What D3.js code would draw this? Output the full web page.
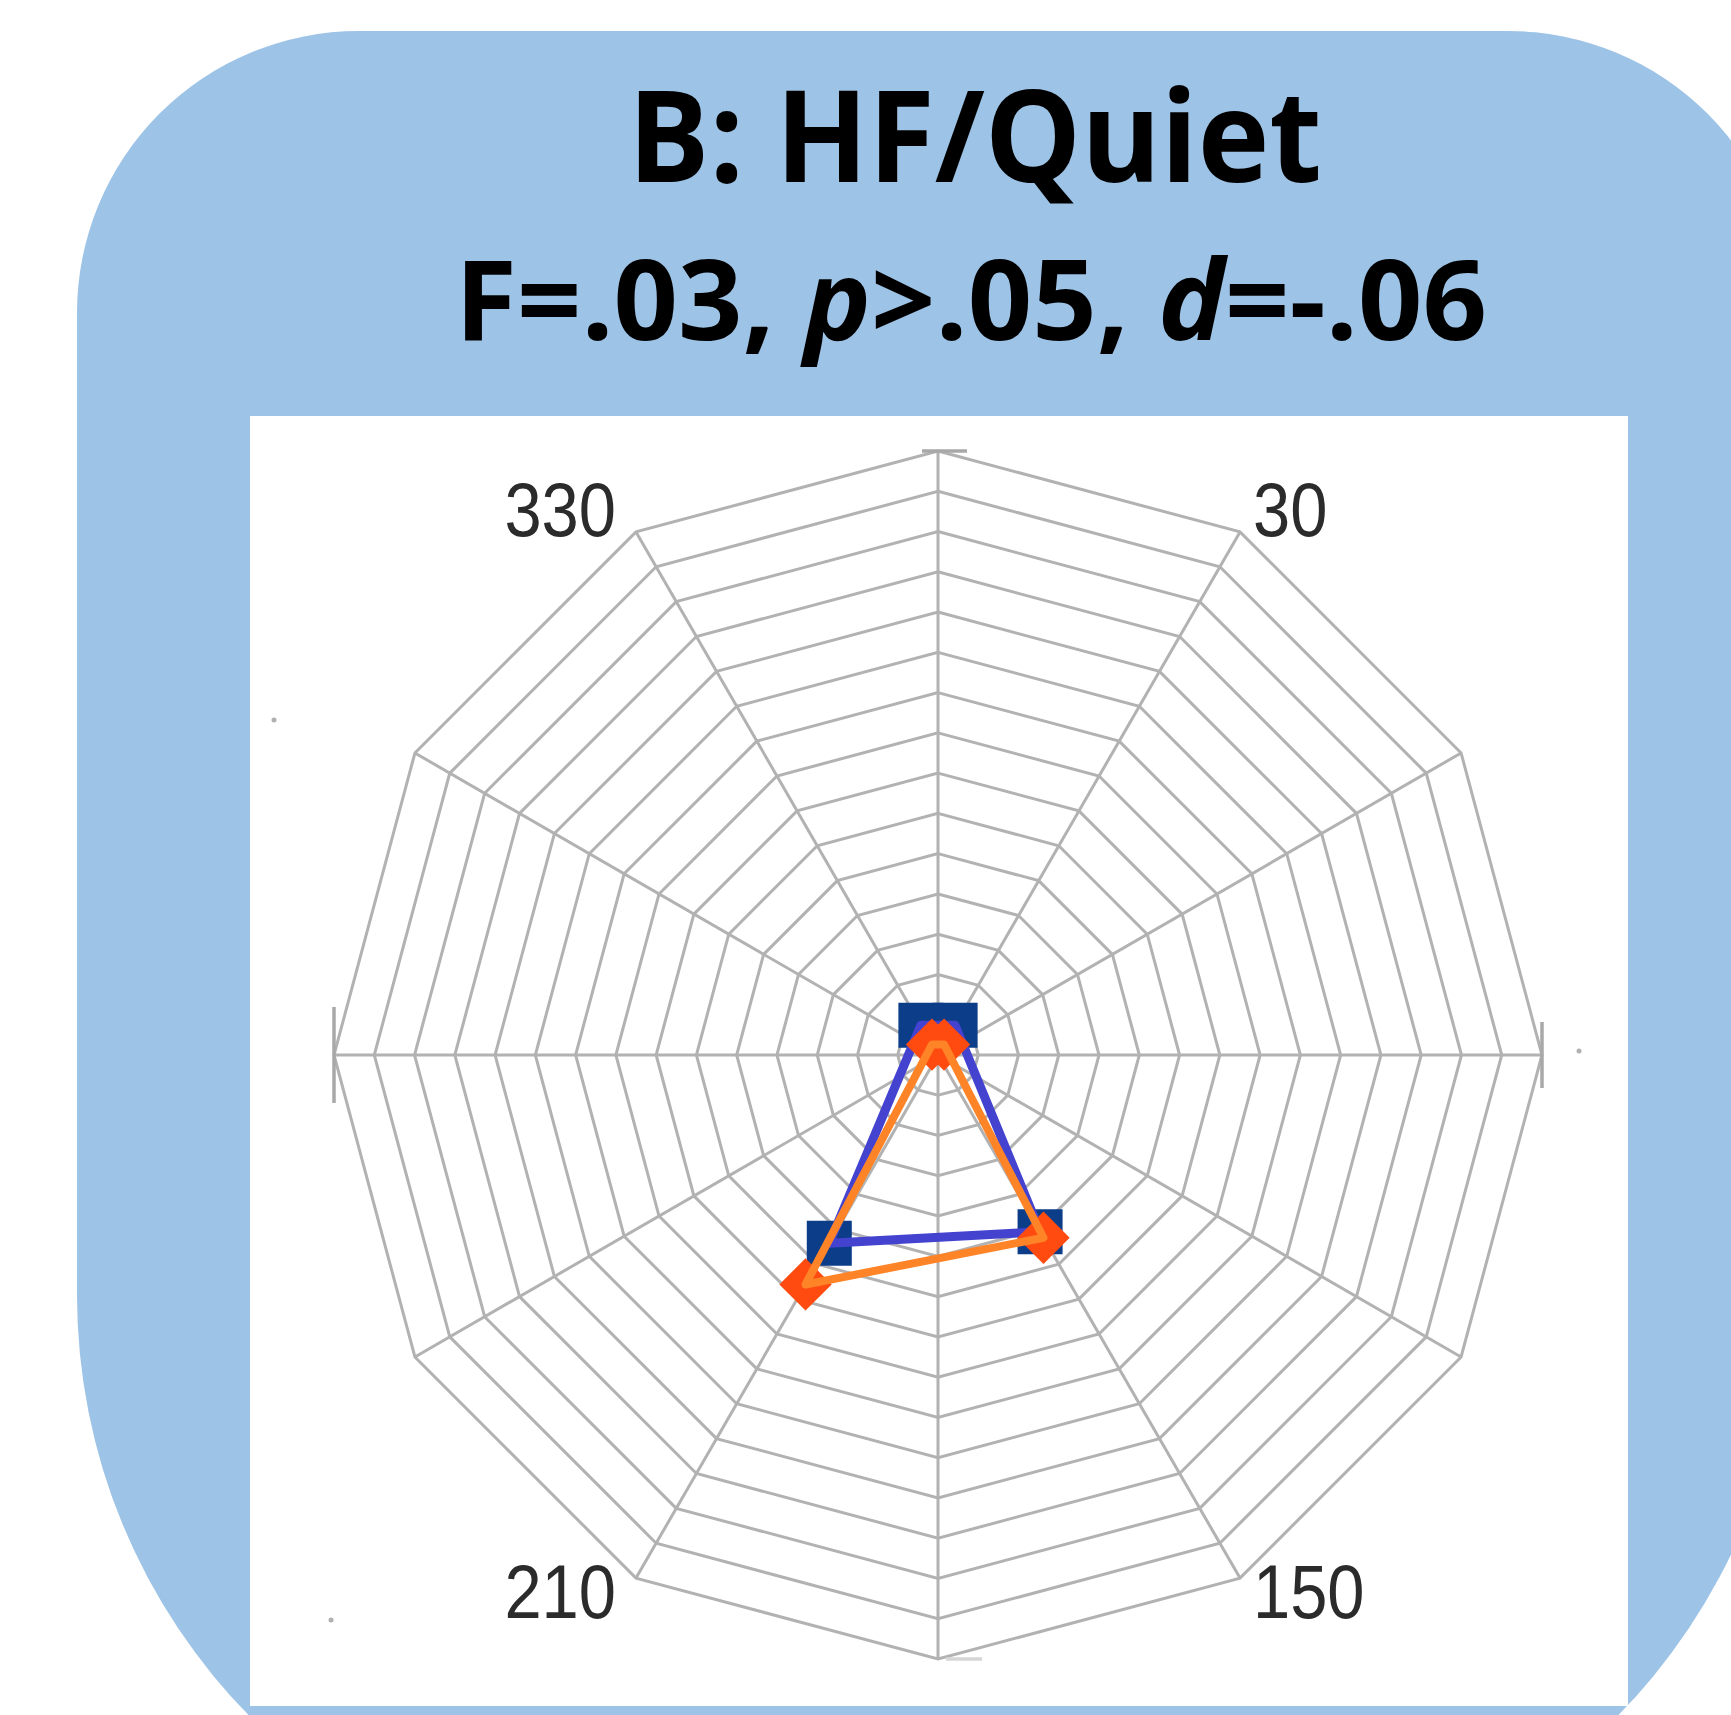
<!DOCTYPE html>
<html>
<head>
<meta charset="utf-8">
<script src="https://cdn.jsdelivr.net/npm/d3@7"></script>
<style>
  html, body { margin: 0; padding: 0; background: #ffffff; }
  svg { display: block; }
</style>
</head>
<body>
<script>
// ---------- data ----------
const spokeAngles = [0, 30, 60, 90, 120, 150, 180, 210, 240, 270, 300, 330];
const ringTicks = [1, 2, 3, 4, 5, 6, 7, 8, 9, 10, 11, 12, 13, 14, 15];
const angleLabels = ["330", "30", "150", "210"];
const angleLabelAngles = [330, 30, 150, 210];

const seriesAngles = [30, 150, 210, 330];
const blueValues   = [0.85, 5.07, 5.40, 0.85];
const orangeValues = [0.30, 5.24, 6.58, 0.30];

const titleText = "B: HF/Quiet";

// ---------- layout ----------
const W = 1731, H = 1715;
const cx = 938, cy = 1055, R = 604;

const svg = d3.select("body").append("svg")
  .attr("width", W).attr("height", H);

// blue rounded panel (top corners small radius, bottom corners large)
const pl = 77, pr = 1790, pt = 31, rt = 282, rb = 600, pb = 1895;
const panel = d3.path();
panel.moveTo(pl + rt, pt);
panel.lineTo(pr - rt, pt);
panel.arc(pr - rt, pt + rt, rt, -Math.PI / 2, 0);
panel.lineTo(pr, pb - rb);
panel.arc(pr - rb, pb - rb, rb, 0, Math.PI / 2);
panel.lineTo(pl + rb, pb);
panel.arc(pl + rb, pb - rb, rb, Math.PI / 2, Math.PI);
panel.lineTo(pl, pt + rt);
panel.arc(pl + rt, pt + rt, rt, Math.PI, Math.PI * 1.5);
panel.closePath();
svg.append("path").attr("d", panel.toString()).attr("fill", "#9dc3e6");

// white plot area
svg.append("rect").attr("x", 250).attr("y", 416).attr("width", 1378).attr("height", 1290)
  .attr("fill", "#ffffff");

// ---------- titles ----------
function fitWidth(sel, target, centerX) {
  const w = sel.node().getBBox().width;
  const s = target / w;
  sel.attr("transform", `translate(${centerX},0) scale(${s},1) translate(${-centerX},0)`);
}

const t1 = svg.append("text")
  .attr("x", 975).attr("y", 182)
  .attr("text-anchor", "middle")
  .attr("font-family", "'Open Sans', 'Noto Sans', sans-serif")
  .attr("font-weight", 700).attr("font-size", 127)
  .attr("fill", "#000")
  .text(titleText);
fitWidth(t1, 694, 975);

const t2 = svg.append("text")
  .attr("x", 971).attr("y", 340)
  .attr("text-anchor", "middle")
  .attr("font-family", "'Open Sans', 'Noto Sans', sans-serif")
  .attr("font-weight", 700).attr("font-size", 111)
  .attr("fill", "#000");
t2.append("tspan").text("F=.03, ");
t2.append("tspan").attr("font-style", "italic").text("p");
t2.append("tspan").text(">.05, ");
t2.append("tspan").attr("font-style", "italic").text("d");
t2.append("tspan").text("=-.06");
fitWidth(t2, 1032, 971);

// ---------- polar scales ----------
const rScale = d3.scaleLinear().domain([0, 15]).range([0, R]);
const aScale = d3.scaleLinear().domain([0, 360]).range([0, 2 * Math.PI]);
function pt2(angleDeg, value) {
  const a = aScale(angleDeg), r = rScale(value);
  return [cx + r * Math.sin(a), cy - r * Math.cos(a)];
}

const grid = svg.append("g")
  .attr("fill", "none").attr("stroke", "#b2b2b2").attr("stroke-width", 3);

// rings
const ringLine = d3.line().curve(d3.curveLinearClosed);
grid.selectAll("path.ring").data(ringTicks).join("path")
  .attr("class", "ring")
  .attr("d", v => ringLine(spokeAngles.map(a => pt2(a, v))));

// spokes
grid.selectAll("line.spoke").data(spokeAngles).join("line")
  .attr("class", "spoke")
  .attr("x1", cx).attr("y1", cy)
  .attr("x2", a => pt2(a, 15)[0]).attr("y2", a => pt2(a, 15)[1]);

// small end ticks on the cardinal axes
const cardTicks = [
  { a: 0,   lo: -16, hi: 29, c: "#a8a8a8" },
  { a: 90,  lo: -33, hi: 33, c: "#a8a8a8" },
  { a: 180, lo: -44, hi: -8, c: "#d6d6d6" },
  { a: 270, lo: -48, hi: 48, c: "#a8a8a8" }
];
svg.append("g").attr("stroke-width", 3.5)
  .selectAll("line").data(cardTicks).join("line")
  .attr("stroke", d => d.c)
  .each(function (d) {
    const [x, y] = pt2(d.a, 15);
    const rad = aScale(d.a);
    const tx = Math.cos(rad), ty = Math.sin(rad); // tangent direction
    d3.select(this)
      .attr("x1", x + tx * d.lo).attr("y1", y + ty * d.lo)
      .attr("x2", x + tx * d.hi).attr("y2", y + ty * d.hi);
  });

// angle labels
const labG = svg.append("g")
  .attr("font-family", "'Liberation Sans', Arial, sans-serif")
  .attr("font-size", 76).attr("fill", "#2b2b2b");
angleLabels.forEach((lab, i) => {
  const ang = angleLabelAngles[i];
  const [x, y] = pt2(ang, 15);
  const left = Math.sin(aScale(ang)) < 0;
  const top = Math.cos(aScale(ang)) > 0;
  const lx = left ? x - 20 : x + 13;
  const ly = top ? y + 4 : y + 40;
  const t = labG.append("text")
    .attr("x", lx).attr("y", ly)
    .attr("text-anchor", left ? "end" : "start")
    .text(lab);
  t.attr("transform", `translate(${lx},0) scale(0.88,1) translate(${-lx},0)`);
});

// ---------- series ----------
const polyLine = d3.line().curve(d3.curveLinearClosed);
const bluePts = seriesAngles.map((a, i) => pt2(a, blueValues[i]));
const orangePts = seriesAngles.map((a, i) => pt2(a, orangeValues[i]));

// blue markers
svg.append("g").selectAll("path").data(bluePts).join("path")
  .attr("transform", d => `translate(${d[0]},${d[1]})`)
  .attr("d", d3.symbol().type(d3.symbolSquare).size(45 * 45))
  .attr("fill", "#0b3d89");

// blue line
svg.append("path").attr("d", polyLine(bluePts))
  .attr("fill", "none").attr("stroke", "#4343d0").attr("stroke-width", 9)
  .attr("stroke-linejoin", "round");

// orange markers (diamonds)
svg.append("g").selectAll("path").data(orangePts).join("path")
  .attr("transform", d => `translate(${d[0]},${d[1]}) rotate(45)`)
  .attr("d", d3.symbol().type(d3.symbolSquare).size(37 * 37))
  .attr("fill", "#ff4a10");

// orange line
svg.append("path").attr("d", polyLine(orangePts))
  .attr("fill", "none").attr("stroke", "#ff8428").attr("stroke-width", 8)
  .attr("stroke-linejoin", "round");

// faint stray specks seen in the source image
const specks = [[274, 720], [331, 1620], [1579, 1051]];
svg.append("g").selectAll("circle").data(specks).join("circle")
  .attr("cx", d => d[0]).attr("cy", d => d[1]).attr("r", 2.5)
  .attr("fill", "#b0b0b0");
</script>
</body>
</html>
